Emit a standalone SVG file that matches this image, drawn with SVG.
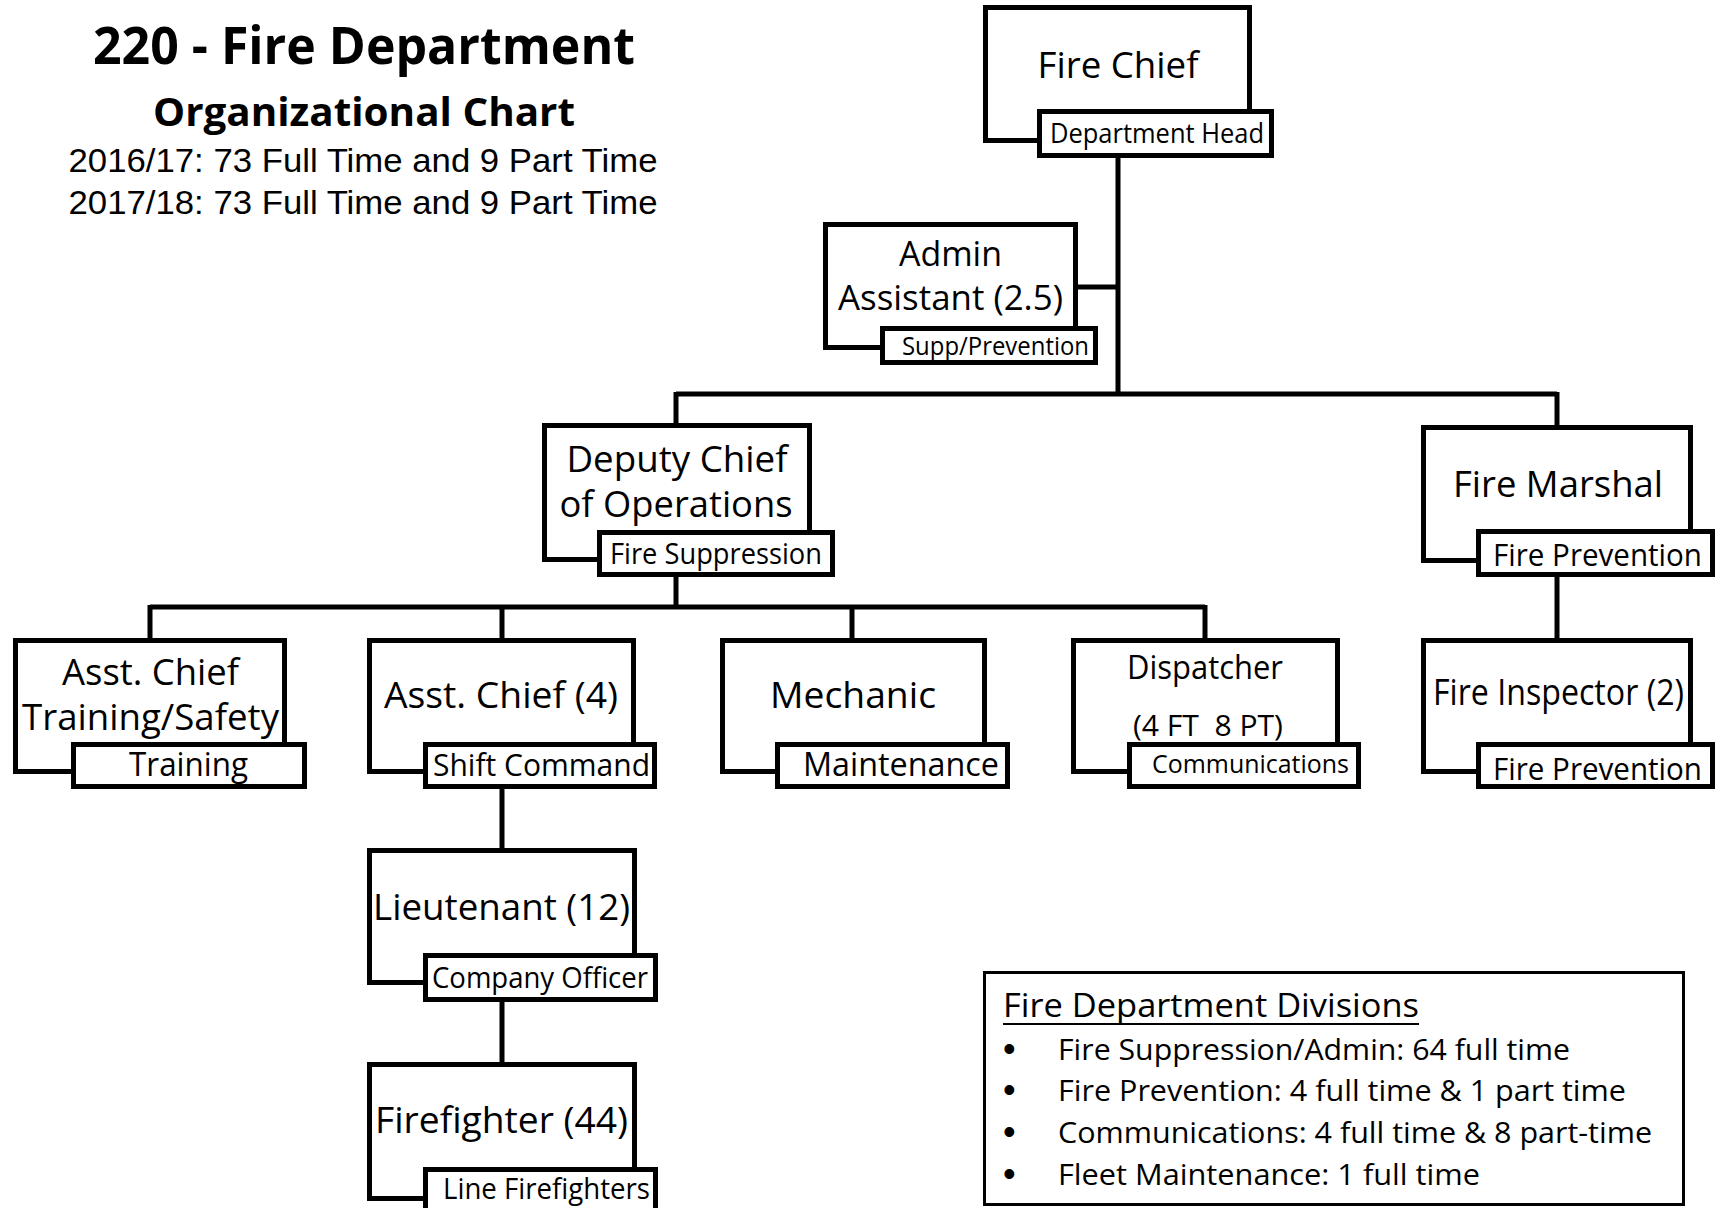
<svg xmlns="http://www.w3.org/2000/svg" width="1718" height="1208" viewBox="0 0 1718 1208">
<style>
.bg{fill:#fff}
.box{fill:#fff;stroke:#000;stroke-width:5}
.conn{fill:none;stroke:#000;stroke-width:5}
.t{font-family:"Open Sans","Liberation Sans",sans-serif;text-anchor:middle;fill:#000;font-size:36px}
.title{font-family:"Open Sans","Liberation Sans",sans-serif;font-weight:bold;text-anchor:middle;fill:#000}
.sub{font-family:"Liberation Sans",Arial,sans-serif;font-size:34px;text-anchor:middle;fill:#000}
.leg{font-family:"Open Sans","Liberation Sans",sans-serif;font-size:29px;fill:#000}
.bul{font-family:"Liberation Sans",Arial,sans-serif;font-size:36px;fill:#000}
</style>
<rect class="bg" x="0" y="0" width="1718" height="1208"/>
<g id="title">
<text class="title" x="364" y="64" style="font-size:52px" textLength="542" lengthAdjust="spacingAndGlyphs">220 - Fire Department</text>
<text class="title" x="364" y="126" style="font-size:40px" textLength="422" lengthAdjust="spacingAndGlyphs">Organizational Chart</text>
<text class="sub" x="363" y="172" textLength="589" lengthAdjust="spacingAndGlyphs">2016/17: 73 Full Time and 9 Part Time</text>
<text class="sub" x="363" y="214" textLength="589" lengthAdjust="spacingAndGlyphs">2017/18: 73 Full Time and 9 Part Time</text>
</g>
<g id="connectors">
<path class="conn" d="M1118 150 V394"/>
<path class="conn" d="M1070 287 H1118"/>
<path class="conn" d="M676 394 H1557"/>
<path class="conn" d="M676 392 V430"/>
<path class="conn" d="M1557 392 V430"/>
<path class="conn" d="M676 570 V607"/>
<path class="conn" d="M150 607 H1205"/>
<path class="conn" d="M150 605 V643"/>
<path class="conn" d="M502 605 V643"/>
<path class="conn" d="M852 605 V643"/>
<path class="conn" d="M1205 605 V643"/>
<path class="conn" d="M502 785 V855"/>
<path class="conn" d="M502 998 V1067"/>
<path class="conn" d="M1557 570 V643"/>
</g>
<g id="fire-chief">
<rect class="box" x="985.5" y="7.5" width="264" height="133"/>
<rect class="box" x="1039.5" y="111.5" width="232" height="44"/>
<text class="t" x="1118" y="78" textLength="161" lengthAdjust="spacingAndGlyphs">Fire Chief</text>
<text class="t" x="1157" y="143" style="font-size:28px" textLength="214" lengthAdjust="spacingAndGlyphs">Department Head</text>
</g>
<g id="admin-assistant">
<rect class="box" x="825.5" y="224.5" width="250" height="123"/>
<rect class="box" x="882.5" y="328.5" width="213" height="34"/>
<text class="t" x="950.5" y="266" style="font-size:34px" textLength="103" lengthAdjust="spacingAndGlyphs">Admin</text>
<text class="t" x="950.5" y="310" style="font-size:34px" textLength="225" lengthAdjust="spacingAndGlyphs">Assistant (2.5)</text>
<text class="t" x="995.5" y="355" style="font-size:25px" textLength="187" lengthAdjust="spacingAndGlyphs">Supp/Prevention</text>
</g>
<g id="deputy-chief">
<rect class="box" x="544.5" y="425.5" width="265" height="134"/>
<rect class="box" x="599.5" y="532.5" width="233" height="42"/>
<text class="t" x="677" y="472" textLength="221" lengthAdjust="spacingAndGlyphs">Deputy Chief</text>
<text class="t" x="676" y="517" textLength="233" lengthAdjust="spacingAndGlyphs">of Operations</text>
<text class="t" x="716" y="564" style="font-size:29px" textLength="212" lengthAdjust="spacingAndGlyphs">Fire Suppression</text>
</g>
<g id="fire-marshal">
<rect class="box" x="1423.5" y="427.5" width="267" height="133"/>
<rect class="box" x="1478.5" y="531.5" width="234" height="43"/>
<text class="t" x="1558" y="497" textLength="210" lengthAdjust="spacingAndGlyphs">Fire Marshal</text>
<text class="t" x="1597.5" y="566" style="font-size:31px" textLength="209" lengthAdjust="spacingAndGlyphs">Fire Prevention</text>
</g>
<g id="asst-chief-training">
<rect class="box" x="15.5" y="640.5" width="269" height="131"/>
<rect class="box" x="73.5" y="744.5" width="231" height="42"/>
<text class="t" x="150.5" y="685" textLength="177" lengthAdjust="spacingAndGlyphs">Asst. Chief</text>
<text class="t" x="150.5" y="730" textLength="257" lengthAdjust="spacingAndGlyphs">Training/Safety</text>
<text class="t" x="188.5" y="776" style="font-size:32px" textLength="119" lengthAdjust="spacingAndGlyphs">Training</text>
</g>
<g id="asst-chief">
<rect class="box" x="369.5" y="640.5" width="264" height="131"/>
<rect class="box" x="425.5" y="744.5" width="229" height="42"/>
<text class="t" x="501" y="708" textLength="234" lengthAdjust="spacingAndGlyphs">Asst. Chief (4)</text>
<text class="t" x="541.5" y="776" style="font-size:31px" textLength="217" lengthAdjust="spacingAndGlyphs">Shift Command</text>
</g>
<g id="mechanic">
<rect class="box" x="722.5" y="640.5" width="262" height="131"/>
<rect class="box" x="777.5" y="744.5" width="230" height="42"/>
<text class="t" x="853" y="708" textLength="166" lengthAdjust="spacingAndGlyphs">Mechanic</text>
<text class="t" x="901" y="776" style="font-size:33px" textLength="196" lengthAdjust="spacingAndGlyphs">Maintenance</text>
</g>
<g id="dispatcher">
<rect class="box" x="1073.5" y="640.5" width="264" height="131"/>
<rect class="box" x="1129.5" y="744.5" width="229" height="42"/>
<text class="t" x="1205" y="679" style="font-size:32px" textLength="156" lengthAdjust="spacingAndGlyphs">Dispatcher</text>
<text class="t" x="1208" y="736" style="font-size:30px" xml:space="preserve" textLength="150" lengthAdjust="spacingAndGlyphs">(4 FT  8 PT)</text>
<text class="t" x="1250.5" y="773" style="font-size:26px" textLength="197" lengthAdjust="spacingAndGlyphs">Communications</text>
</g>
<g id="fire-inspector">
<rect class="box" x="1423.5" y="640.5" width="267" height="131"/>
<rect class="box" x="1478.5" y="744.5" width="234" height="42"/>
<text class="t" x="1558.5" y="705" textLength="251" lengthAdjust="spacingAndGlyphs">Fire Inspector (2)</text>
<text class="t" x="1597.5" y="780" style="font-size:31px" textLength="209" lengthAdjust="spacingAndGlyphs">Fire Prevention</text>
</g>
<g id="lieutenant">
<rect class="box" x="369.5" y="850.5" width="265" height="132"/>
<rect class="box" x="425.5" y="955.5" width="230" height="44"/>
<text class="t" x="501.5" y="920" textLength="257" lengthAdjust="spacingAndGlyphs">Lieutenant (12)</text>
<text class="t" x="540" y="988" style="font-size:29px" textLength="216" lengthAdjust="spacingAndGlyphs">Company Officer</text>
</g>
<g id="firefighter">
<rect class="box" x="369.5" y="1064.5" width="265" height="134"/>
<rect class="box" x="425.5" y="1169.5" width="230" height="50"/>
<text class="t" x="501.5" y="1133" textLength="253" lengthAdjust="spacingAndGlyphs">Firefighter (44)</text>
<text class="t" x="546.5" y="1199" style="font-size:29px" textLength="207" lengthAdjust="spacingAndGlyphs">Line Firefighters</text>
</g>
<g id="legend">
<rect x="984.5" y="972.5" width="699" height="232" fill="#fff" stroke="#000" stroke-width="3"/>
<text class="leg" x="1003" y="1017" style="font-size:33px" textLength="416" lengthAdjust="spacingAndGlyphs">Fire Department Divisions</text>
<line x1="1003" y1="1024" x2="1419" y2="1024" stroke="#000" stroke-width="2"/>
<text class="bul" x="1003" y="1061">•</text>
<text class="bul" x="1003" y="1102">•</text>
<text class="bul" x="1003" y="1144">•</text>
<text class="bul" x="1003" y="1186">•</text>
<text class="leg" x="1058" y="1060" textLength="512" lengthAdjust="spacingAndGlyphs">Fire Suppression/Admin: 64 full time</text>
<text class="leg" x="1058" y="1101" textLength="568" lengthAdjust="spacingAndGlyphs">Fire Prevention: 4 full time &amp; 1 part time</text>
<text class="leg" x="1058" y="1143" textLength="594" lengthAdjust="spacingAndGlyphs">Communications: 4 full time &amp; 8 part-time</text>
<text class="leg" x="1058" y="1185" textLength="422" lengthAdjust="spacingAndGlyphs">Fleet Maintenance: 1 full time</text>
</g>
</svg>
